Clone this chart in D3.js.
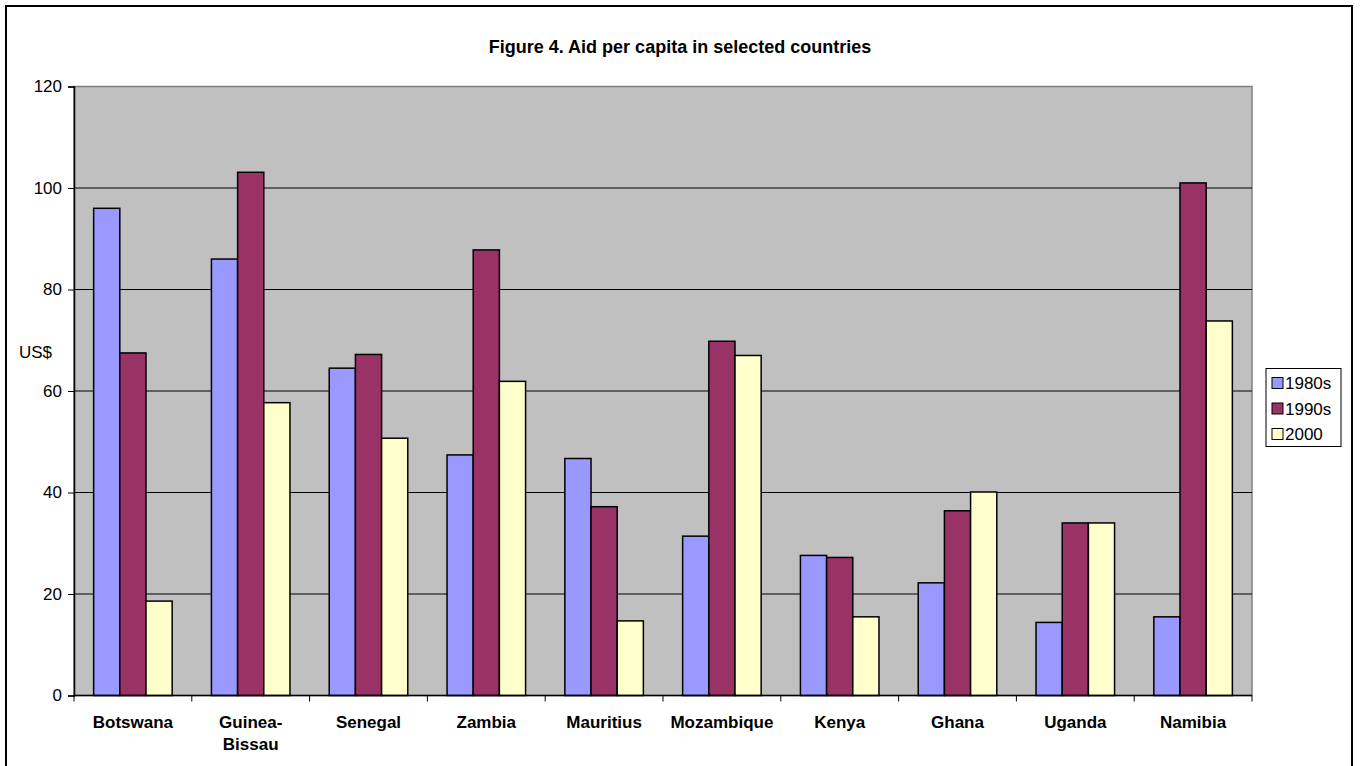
<!DOCTYPE html>
<html>
<head>
<meta charset="utf-8">
<script src="https://cdn.jsdelivr.net/npm/d3@7"></script>
<style>
  html, body { margin: 0; padding: 0; background: #fff; }
  svg { display: block; }
  text { font-family: Arial, "Liberation Sans", sans-serif; fill: #000; }
</style>
</head>
<body>
<svg id="chart" width="1360" height="766"></svg>
<script>
const categories = ["Botswana", "Guinea-Bissau", "Senegal", "Zambia", "Mauritius", "Mozambique", "Kenya", "Ghana", "Uganda", "Namibia"];
const seriesNames = ["1980s", "1990s", "2000"];
const values1980s = [96.0, 86.0, 64.5, 47.4, 46.7, 31.4, 27.6, 22.2, 14.4, 15.5];
const values1990s = [67.5, 103.1, 67.2, 87.8, 37.2, 69.8, 27.2, 36.4, 34.0, 101.0];
const values2000  = [18.6, 57.7, 50.7, 61.9, 14.7, 67.0, 15.5, 40.1, 34.0, 73.8];
const yTicks = [0, 20, 40, 60, 80, 100, 120];
const colors = ["#9999FF", "#993366", "#FFFFCC"];
const titleText = "Figure 4. Aid per capita in selected countries";
const yLabel = "US$";

const seriesValues = [values1980s, values1990s, values2000];

const svg = d3.select("#chart");
const plot = { left: 74, right: 1252, top: 86.5, bottom: 695.5 };

// outer frame
svg.append("rect").attr("x", 6).attr("y", 6).attr("width", 1346).attr("height", 780)
  .attr("fill", "#fff").attr("stroke", "#000").attr("stroke-width", 2);

const x0 = d3.scaleBand().domain(categories).range([plot.left, plot.right]).paddingInner(1/3).paddingOuter(1/6);
const x1 = d3.scaleBand().domain(seriesNames).range([0, x0.bandwidth()]);
const y = d3.scaleLinear().domain([0, 120]).range([plot.bottom, plot.top]);

// plot background
svg.append("rect").attr("x", plot.left).attr("y", plot.top)
  .attr("width", plot.right - plot.left).attr("height", plot.bottom - plot.top)
  .attr("fill", "#C0C0C0").attr("stroke", "#808080").attr("stroke-width", 1.5);

// gridlines
svg.append("g").selectAll("line").data(yTicks.filter(d => d > 0 && d < 120)).join("line")
  .attr("x1", plot.left).attr("x2", plot.right)
  .attr("y1", d => y(d)).attr("y2", d => y(d))
  .attr("stroke", "#000").attr("stroke-width", 1);

// bars
const groups = svg.append("g").selectAll("g").data(categories).join("g")
  .attr("transform", d => `translate(${x0(d)},0)`);
groups.selectAll("rect").data((c, i) => seriesNames.map((s, j) => ({ s, j, v: seriesValues[j][i] }))).join("rect")
  .attr("x", d => x1(d.s)).attr("width", x1.bandwidth())
  .attr("y", d => y(d.v)).attr("height", d => y(0) - y(d.v))
  .attr("fill", d => colors[d.j]).attr("stroke", "#000").attr("stroke-width", 1.5);

// y axis
const yAxis = d3.axisLeft(y).tickValues(yTicks).tickSize(6).tickPadding(6).tickFormat(d3.format("d"));
const gy = svg.append("g").attr("transform", `translate(${plot.left},0)`).call(yAxis);
gy.select(".domain").attr("stroke", "#000").attr("stroke-width", 1.5);
gy.selectAll(".tick line").attr("stroke", "#000");
gy.selectAll(".tick text").attr("font-size", 17).attr("font-family", "Arial, 'Liberation Sans', sans-serif").attr("fill", "#000");

// x axis
const xBoundaries = d3.scaleLinear().domain([0, categories.length]).range([plot.left, plot.right]);
const gx = svg.append("g");
gx.append("line").attr("x1", plot.left).attr("x2", plot.right).attr("y1", plot.bottom).attr("y2", plot.bottom)
  .attr("stroke", "#000").attr("stroke-width", 1.5);
gx.selectAll("line.tk").data(d3.range(categories.length + 1)).join("line").attr("class", "tk")
  .attr("x1", d => xBoundaries(d)).attr("x2", d => xBoundaries(d))
  .attr("y1", plot.bottom).attr("y2", plot.bottom + 6).attr("stroke", "#000");
const xl = gx.selectAll("text").data(categories).join("text")
  .attr("x", d => x0(d) + x0.bandwidth() / 2)
  .attr("y", 728)
  .attr("text-anchor", "middle").attr("font-size", 17).attr("font-weight", "bold");
xl.each(function(d) {
  const parts = d === "Guinea-Bissau" ? ["Guinea-", "Bissau"] : [d];
  const t = d3.select(this);
  parts.forEach((p, i) => {
    t.append("tspan").attr("x", x0(d) + x0.bandwidth() / 2).attr("dy", i === 0 ? 0 : 22).text(p);
  });
});

// y label
svg.append("text").attr("x", 19).attr("y", 358).attr("font-size", 17).text(yLabel);

// title
svg.append("text").attr("x", 680).attr("y", 53).attr("text-anchor", "middle")
  .attr("font-size", 18).attr("font-weight", "bold").text(titleText);

// legend
const lg = svg.append("g");
lg.append("rect").attr("x", 1266).attr("y", 368.5).attr("width", 75).attr("height", 78)
  .attr("fill", "#fff").attr("stroke", "#000").attr("stroke-width", 1);
const items = lg.selectAll("g").data(seriesNames).join("g")
  .attr("transform", (d, i) => `translate(1272,${383 + i * 25.5})`);
items.append("rect").attr("x", 0).attr("y", -5.5).attr("width", 11).attr("height", 11)
  .attr("fill", (d, i) => colors[i]).attr("stroke", "#000").attr("stroke-width", 1);
items.append("text").attr("x", 13).attr("y", 6).attr("font-size", 17).text(d => d);
</script>
</body>
</html>
